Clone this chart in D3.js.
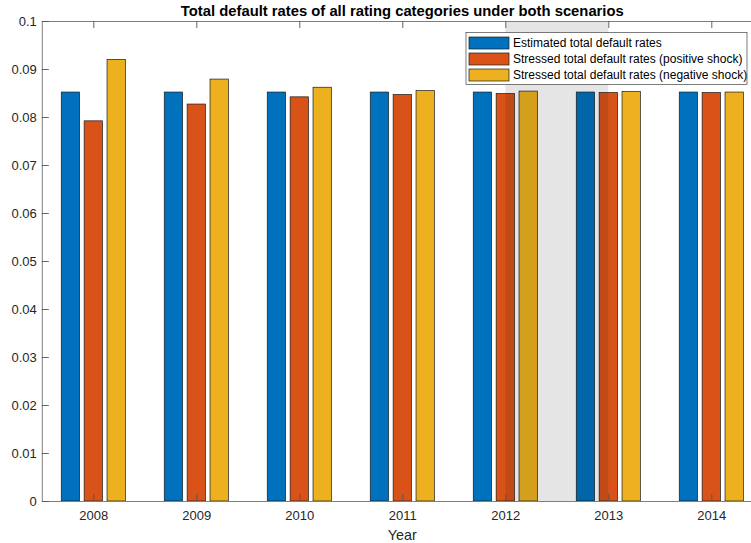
<!DOCTYPE html>
<html>
<head>
<meta charset="utf-8">
<script src="https://cdn.jsdelivr.net/npm/d3@7"></script>
<style>
  html, body { margin: 0; padding: 0; background: #fff; }
  svg { display: block; font-family: "Liberation Sans", Arial, Helvetica, sans-serif; }
</style>
</head>
<body>
<svg id="chart" width="751" height="543"></svg>
<script>
// Default rates per year and scenario
const years = [2008, 2009, 2010, 2011, 2012, 2013, 2014];
const estimated = [0.0852, 0.0852, 0.0852, 0.0852, 0.0852, 0.0852, 0.0852];
const positiveShock = [0.0792, 0.0827, 0.0842, 0.0847, 0.0849, 0.0851, 0.0851];
const negativeShock = [0.0920, 0.0879, 0.0862, 0.0855, 0.0854, 0.0853, 0.0852];
const seriesNames = [
  "Estimated total default rates",
  "Stressed total default rates (positive shock)",
  "Stressed total default rates (negative shock)"
];
const seriesColors = ["#0072BD", "#D95319", "#EDB120"];
const yTicks = [0, 0.01, 0.02, 0.03, 0.04, 0.05, 0.06, 0.07, 0.08, 0.09, 0.1];
const highlightSpan = [2012, 2013];

const series = [estimated, positiveShock, negativeShock];

const svg = d3.select("#chart");
const plotLeft = 41.8, plotRight = 762.8, plotTop = 21, plotBottom = 501;

const x = d3.scaleLinear().domain([2007.5, 2014.5]).range([plotLeft, plotRight]);
const y = d3.scaleLinear().domain([0, 0.1]).range([plotBottom, plotTop]);

// grouped bar geometry (in year units)
const offsets = [-0.2222, 0, 0.2222];
const barW = 0.1778;

const plot = svg.append("g");

series.forEach((vals, si) => {
  plot.selectAll(null)
    .data(vals.map((v, i) => ({ year: years[i], v })))
    .join("rect")
    .attr("x", d => x(d.year + offsets[si] - barW / 2))
    .attr("width", d => x(d.year + barW) - x(d.year))
    .attr("y", d => y(d.v))
    .attr("height", d => y(0) - y(d.v))
    .attr("fill", seriesColors[si])
    .attr("stroke", "#1a1a1a")
    .attr("stroke-width", 0.7);
});

// translucent shaded band
plot.append("rect")
  .attr("x", x(highlightSpan[0]))
  .attr("width", x(highlightSpan[1]) - x(highlightSpan[0]))
  .attr("y", y(0.1))
  .attr("height", y(0) - y(0.1))
  .attr("fill", "#000")
  .attr("fill-opacity", 0.1);

// axes
const axisColor = "#262626";
const tickLen = 7;

const xAxisBottom = d3.axisBottom(x).tickValues(years).tickFormat(d3.format("d"))
  .tickSizeInner(-tickLen).tickSizeOuter(0).tickPadding(10);
const xAxisTop = d3.axisTop(x).tickValues(years).tickFormat("")
  .tickSizeInner(-tickLen).tickSizeOuter(0);
const yAxisLeft = d3.axisLeft(y).tickValues(yTicks).tickFormat(d => d === 0 ? "0" : d3.format(".2~f")(d))
  .tickSizeInner(-tickLen).tickSizeOuter(0).tickPadding(5);

function styleAxis(g) {
  g.select(".domain").attr("stroke", "#7f7f7f").attr("stroke-width", 1);
  g.selectAll(".tick line").attr("stroke", "#555").attr("stroke-width", 0.9);
  g.selectAll(".tick text").attr("fill", axisColor)
    .style("font-family", '"Liberation Sans", Arial, sans-serif')
    .style("font-size", "13px");
}

svg.append("g").attr("transform", `translate(0,${plotBottom})`).call(xAxisBottom).call(styleAxis);
svg.append("g").attr("transform", `translate(0,${plotTop})`).call(xAxisTop).call(styleAxis);
svg.append("g").attr("transform", `translate(${plotLeft},0)`).call(yAxisLeft).call(styleAxis);

// title and axis label
svg.append("text")
  .attr("x", (plotLeft + plotRight) / 2)
  .attr("y", 16)
  .attr("text-anchor", "middle")
  .attr("font-weight", "bold")
  .attr("font-size", "14.8px")
  .attr("fill", "#000")
  .text("Total default rates of all rating categories under both scenarios");

svg.append("text")
  .attr("x", (plotLeft + plotRight) / 2)
  .attr("y", 540)
  .attr("text-anchor", "middle")
  .attr("font-size", "14.3px")
  .attr("fill", axisColor)
  .text("Year");

// legend
const lg = svg.append("g").attr("transform", "translate(466,32.5)");
lg.append("rect")
  .attr("width", 281).attr("height", 52)
  .attr("fill", "#fff")
  .attr("stroke", "#262626").attr("stroke-width", 0.6);

const rows = lg.selectAll(null)
  .data(seriesNames)
  .join("g")
  .attr("transform", (d, i) => `translate(3,${10.5 + i * 16})`);

rows.append("rect")
  .attr("x", 0).attr("y", -6)
  .attr("width", 40).attr("height", 12)
  .attr("fill", (d, i) => seriesColors[i])
  .attr("stroke", "#1a1a1a").attr("stroke-width", 0.7);

rows.append("text")
  .attr("x", 44).attr("y", 0)
  .attr("dy", "0.35em")
  .attr("font-size", "12px")
  .attr("fill", "#000")
  .text(d => d);
</script>
</body>
</html>
